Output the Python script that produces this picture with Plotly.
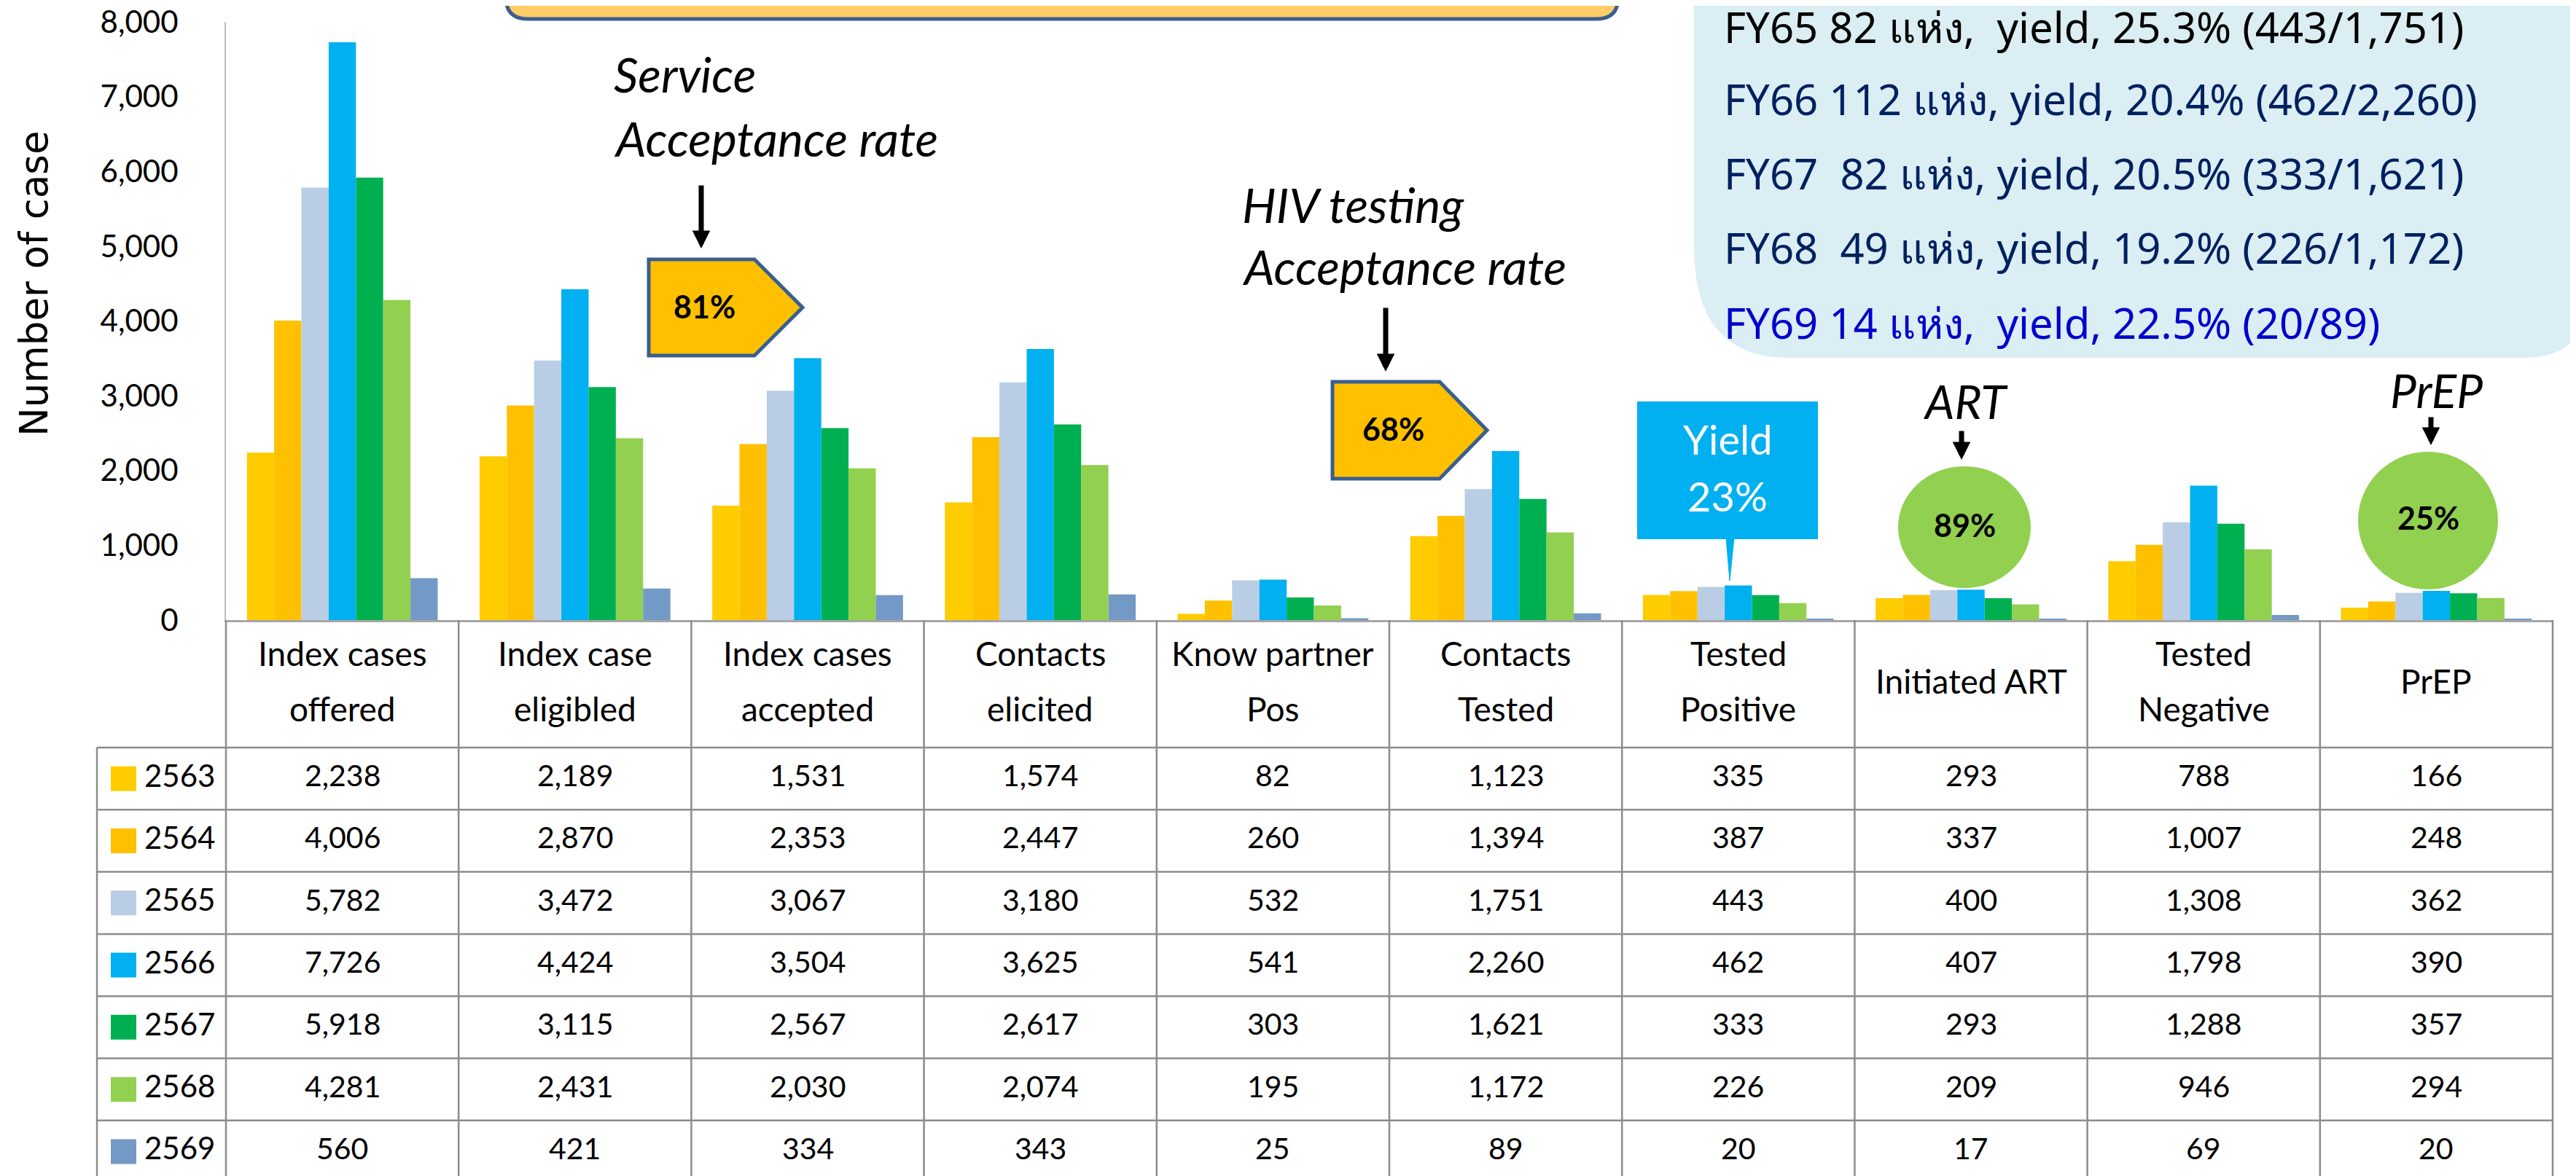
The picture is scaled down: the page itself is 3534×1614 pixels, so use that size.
import plotly.graph_objects as go

# ---------------- data ----------------
categories = ["Index cases offered", "Index case eligibled", "Index cases accepted",
              "Contacts elicited", "Know partner Pos", "Contacts Tested",
              "Tested Positive", "Initiated ART", "Tested Negative", "PrEP"]
header_lines = [["Index cases", "offered"], ["Index case", "eligibled"],
                ["Index cases", "accepted"], ["Contacts", "elicited"],
                ["Know partner", "Pos"], ["Contacts", "Tested"],
                ["Tested", "Positive"], ["Initiated ART"],
                ["Tested", "Negative"], ["PrEP"]]
years = ["2563", "2564", "2565", "2566", "2567", "2568", "2569"]

v2563 = [2238, 2189, 1531, 1574, 82, 1123, 335, 293, 788, 166]
v2564 = [4006, 2870, 2353, 2447, 260, 1394, 387, 337, 1007, 248]
v2565 = [5782, 3472, 3067, 3180, 532, 1751, 443, 400, 1308, 362]
v2566 = [7726, 4424, 3504, 3625, 541, 2260, 462, 407, 1798, 390]
v2567 = [5918, 3115, 2567, 2617, 303, 1621, 333, 293, 1288, 357]
v2568 = [4281, 2431, 2030, 2074, 195, 1172, 226, 209, 946, 294]
v2569 = [560, 421, 334, 343, 25, 89, 20, 17, 69, 20]
series = [v2563, v2564, v2565, v2566, v2567, v2568, v2569]

colors = ["#FFCC00", "#FFC000", "#B9CDE5", "#00B0F0", "#00B050", "#92D050", "#7399C6"]

y_ticks = [0, 1000, 2000, 3000, 4000, 5000, 6000, 7000, 8000]

service_rate = "81%"
testing_rate = "68%"
yield_rate = "23%"
art_rate = "89%"
prep_rate = "25%"

fy_lines = ["FY65 82 แห่ง,  yield, 25.3% (443/1,751)",
            "FY66 112 แห่ง, yield, 20.4% (462/2,260)",
            "FY67  82 แห่ง, yield, 20.5% (333/1,621)",
            "FY68  49 แห่ง, yield, 19.2% (226/1,172)",
            "FY69 14 แห่ง,  yield, 22.5% (20/89)"]
fy_colors = ["#000000", "#002060", "#002060", "#002060", "#0000CC"]

# ---------------- geometry helpers (pixel -> paper) ----------------
W, H = 3534, 1614
L, R = 302, 3494
T, B = 22, 843


def px(X):
    return (X - L) / (R - L)


def py(Y):
    return (B - Y) / (B - T)


def P(X, Y):
    return f"{px(X):.6f},{py(Y):.6f}"


FONT = "Lato"

fig = go.Figure()
for yr, vals, col in zip(years, series, colors):
    fig.add_trace(go.Bar(x=categories, y=vals, name=yr, marker_color=col,
                         marker_line_width=0, showlegend=False))

shapes = []
annotations = []

# ---------------- table ----------------
grid = "#8C8C8C"
row_h = 85.3
row0 = 1018
for k in range(len(categories) + 1):
    shapes.append(dict(type="line", xref="paper", yref="paper",
                       x0=k / len(categories), x1=k / len(categories),
                       y0=py(B), y1=py(H), line=dict(color=grid, width=2.5)))
shapes.append(dict(type="line", xref="paper", yref="paper", x0=px(125), x1=px(125),
                   y0=py(row0), y1=py(H), line=dict(color=grid, width=2.5)))
for r in range(len(years) + 1):
    Y = min(row0 + r * row_h, H - 2)
    shapes.append(dict(type="line", xref="paper", yref="paper", x0=px(125), x1=1,
                       y0=py(Y), y1=py(Y), line=dict(color=grid, width=2.5)))

# header labels
for cat, lines in zip(categories, header_lines):
    ys = [888, 965] if len(lines) == 2 else [926]
    for txt, Y in zip(lines, ys):
        annotations.append(dict(x=cat, xref="x", y=py(Y), yref="paper", text=txt,
                                showarrow=False, xanchor="center", yanchor="middle",
                                font=dict(family=FONT, size=46, color="#000000")))

# rows
for r, (yr, vals, col) in enumerate(zip(years, series, colors)):
    Yc = row0 + r * row_h + row_h / 2
    shapes.append(dict(type="rect", xref="paper", yref="paper",
                       x0=px(144), x1=px(179), y0=py(Yc - 17), y1=py(Yc + 17),
                       fillcolor=col, line=dict(width=0)))
    annotations.append(dict(x=px(188), xref="paper", y=py(Yc - 5), yref="paper", text=yr,
                            showarrow=False, xanchor="left", yanchor="middle",
                            font=dict(family=FONT, size=42, color="#000000")))
    for cat, v in zip(categories, vals):
        annotations.append(dict(x=cat, xref="x", y=py(Yc - 5), yref="paper", text=f"{v:,}",
                                showarrow=False, xanchor="center", yanchor="middle",
                                font=dict(family=FONT, size=41, color="#000000")))

# ---------------- decorations ----------------
# top orange box (partially visible)
shapes.append(dict(type="path", xref="paper", yref="paper",
                   path=(f"M{P(686,-60)} L{P(686,-12)} Q{P(686,18)} {P(716,18)} "
                         f"L{P(2182,18)} Q{P(2212,18)} {P(2212,-12)} L{P(2212,-60)} Z"),
                   fillcolor="#FFCC66", line=dict(color="#3A5F8F", width=5)))
# top-right light blue box
shapes.append(dict(type="path", xref="paper", yref="paper",
                   path=(f"M{P(2316,-30)} L{P(2316,330)} Q{P(2316,483)} {P(2445,483)} "
                         f"L{P(3455,483)} Q{P(3540,483)} {P(3540,400)} L{P(3540,-30)} Z"),
                   fillcolor="#DAEEF3", line=dict(width=0), layer="below"))
fy_y = [29, 128, 229, 331, 434]
for txt, c, Y in zip(fy_lines, fy_colors, fy_y):
    annotations.append(dict(x=px(2355), xref="paper", y=py(Y), yref="paper", text=txt,
                            showarrow=False, xanchor="left", yanchor="middle",
                            font=dict(family="Noto Sans", size=58, color=c)))


def pentagon(x0, xm, x1, y0, y1):
    yc = (y0 + y1) / 2
    return f"M{P(x0,y0)} L{P(xm,y0)} L{P(x1,yc)} L{P(xm,y1)} L{P(x0,y1)} Z"


shapes.append(dict(type="path", xref="paper", yref="paper",
                   path=pentagon(882, 1027, 1093, 348, 480),
                   fillcolor="#FFC000", line=dict(color="#3A5F8F", width=5)))
shapes.append(dict(type="path", xref="paper", yref="paper",
                   path=pentagon(1820, 1967, 2032, 516, 649),
                   fillcolor="#FFC000", line=dict(color="#3A5F8F", width=5)))
bold = dict(family=FONT, size=43, color="#000000")
annotations.append(dict(x=px(958), xref="paper", y=py(413), yref="paper",
                        text=f"<b>{service_rate}</b>", showarrow=False,
                        xanchor="center", yanchor="middle", font=bold))
annotations.append(dict(x=px(1903), xref="paper", y=py(580), yref="paper",
                        text=f"<b>{testing_rate}</b>", showarrow=False,
                        xanchor="center", yanchor="middle", font=bold))

# yield callout
shapes.append(dict(type="rect", xref="paper", yref="paper",
                   x0=px(2238), x1=px(2486), y0=py(543), y1=py(732),
                   fillcolor="#00B0F0", line=dict(width=0)))
shapes.append(dict(type="path", xref="paper", yref="paper",
                   path=f"M{P(2360,730)} L{P(2371,730)} L{P(2365,789)} Z",
                   fillcolor="#00B0F0", line=dict(color="#00B0F0", width=1)))
wfont = dict(family=FONT, size=56, color="#FFFFFF")
annotations.append(dict(x=px(2362), xref="paper", y=py(594), yref="paper", text="Yield",
                        showarrow=False, xanchor="center", yanchor="middle", font=wfont))
annotations.append(dict(x=px(2362), xref="paper", y=py(672), yref="paper", text=yield_rate,
                        showarrow=False, xanchor="center", yanchor="middle", font=wfont))

# ellipses
shapes.append(dict(type="circle", xref="paper", yref="paper",
                   x0=px(2596), x1=px(2778), y0=py(632), y1=py(799),
                   fillcolor="#92D050", line=dict(width=0)))
shapes.append(dict(type="circle", xref="paper", yref="paper",
                   x0=px(3227), x1=px(3419), y0=py(612), y1=py(801),
                   fillcolor="#92D050", line=dict(width=0)))
annotations.append(dict(x=px(2687), xref="paper", y=py(712), yref="paper",
                        text=f"<b>{art_rate}</b>", showarrow=False,
                        xanchor="center", yanchor="middle", font=bold))
annotations.append(dict(x=px(3323), xref="paper", y=py(702), yref="paper",
                        text=f"<b>{prep_rate}</b>", showarrow=False,
                        xanchor="center", yanchor="middle", font=bold))

# italic labels
for txt, X, Y, anchor, size in [("Service", 832, 93, "left", 66),
                                ("Acceptance rate", 832, 181, "left", 66),
                                ("HIV testing", 1694, 272, "left", 66),
                                ("Acceptance rate", 1694, 357, "left", 66),
                                ("ART", 2688, 542, "center", 64),
                                ("PrEP", 3334, 527, "center", 64)]:
    annotations.append(dict(x=px(X), xref="paper", y=py(Y), yref="paper", text=txt,
                            showarrow=False, xanchor=anchor, yanchor="middle",
                            font=dict(family=FONT, size=size, color="#000000",
                                      style="italic")))

# arrows
for X, Y0, Y1 in [(954, 245, 333), (1893, 413, 502), (2683, 582, 623), (3327, 563, 603)]:
    annotations.append(dict(x=px(X), xref="paper", y=py(Y1), yref="paper", text="",
                            showarrow=True, ax=0, ay=-(Y1 - Y0), arrowhead=2,
                            arrowsize=0.7, arrowwidth=7, arrowcolor="#000000",
                            standoff=0))

# y-axis title
annotations.append(dict(x=px(38), xref="paper", y=py(381), yref="paper",
                        text="Number of case", textangle=-90, showarrow=False,
                        xanchor="center", yanchor="middle",
                        font=dict(family="DejaVu Sans", size=53, color="#000000")))

fig.update_layout(
    width=W, height=H,
    margin=dict(l=L, r=W - R, t=T, b=H - B, autoexpand=False),
    barmode="group", bargap=0.18, bargroupgap=0,
    plot_bgcolor="#FFFFFF", paper_bgcolor="#FFFFFF",
    shapes=shapes, annotations=annotations,
    xaxis=dict(type="category", showticklabels=False, showline=True,
               linecolor="#A6A6A6", linewidth=3, ticks="", showgrid=False, zeroline=False),
    yaxis=dict(range=[0, 8000], tickvals=y_ticks, tickformat=",", showgrid=False,
               showline=True, linecolor="#BFBFBF", linewidth=2, zeroline=False, ticks="",
               ticklabelstandoff=55, ticklabeloverflow="allow",
               tickfont=dict(family=FONT, size=42, color="#000000")),
)

fig.write_html("out.html")
